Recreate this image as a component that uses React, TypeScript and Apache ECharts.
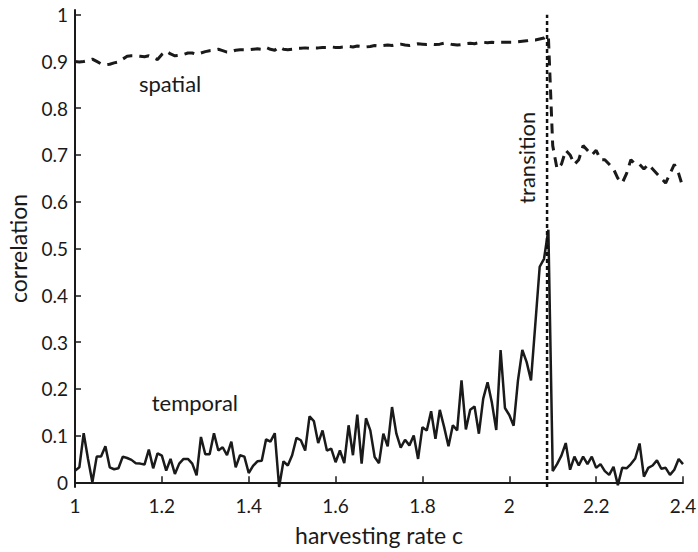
import React, { useEffect, useRef } from "react";
import * as echarts from "echarts";

// harvesting rates 1.00 .. 2.40 in steps of 0.01
const harvestRates: number[] = Array.from({ length: 141 }, (_, i) => (100 + i) / 100);

const temporal: number[] = [
  0.025, 0.032, 0.105, 0.05, 0.0, 0.055, 0.055, 0.077, 0.032, 0.028,
  0.03, 0.055, 0.052, 0.048, 0.041, 0.04, 0.038, 0.07, 0.03, 0.062,
  0.057, 0.025, 0.05, 0.018, 0.04, 0.05, 0.05, 0.04, 0.015, 0.097,
  0.06, 0.06, 0.105, 0.068, 0.075, 0.058, 0.087, 0.032, 0.058, 0.055,
  0.02, 0.035, 0.045, 0.046, 0.092, 0.087, 0.105, -0.01, 0.045, 0.036,
  0.058, 0.095, 0.09, 0.068, 0.141, 0.131, 0.084, 0.111, 0.068, 0.072,
  0.043, 0.068, 0.041, 0.122, 0.058, 0.145, 0.04, 0.137, 0.111, 0.054,
  0.041, 0.104, 0.077, 0.161, 0.104, 0.074, 0.091, 0.079, 0.1, 0.05,
  0.118, 0.111, 0.152, 0.093, 0.155, 0.118, 0.077, 0.122, 0.111, 0.218,
  0.113, 0.155, 0.162, 0.104, 0.179, 0.214, 0.17, 0.112, 0.283, 0.159,
  0.144, 0.121, 0.218, 0.283, 0.257, 0.218, 0.339, 0.461, 0.478, 0.54,
  0.024, 0.039, 0.057, 0.084, 0.027, 0.055, 0.036, 0.055, 0.039, 0.055,
  0.031, 0.039, 0.024, 0.016, 0.033, -0.006, 0.031, 0.03, 0.039, 0.051,
  0.083, 0.012, 0.031, 0.036, 0.047, 0.029, 0.031, 0.016, 0.027, 0.05,
  0.039,
];

const spatial: number[] = [
  0.9, 0.899, 0.9, 0.902, 0.905, 0.9, 0.895, 0.893, 0.894, 0.897,
  0.899, 0.905, 0.911, 0.912, 0.912, 0.911, 0.91, 0.912, 0.908, 0.904,
  0.915, 0.922, 0.916, 0.912, 0.913, 0.915, 0.918, 0.918, 0.915, 0.918,
  0.921, 0.923, 0.924, 0.926, 0.923, 0.92, 0.921, 0.924, 0.925, 0.925,
  0.925, 0.926, 0.927, 0.926, 0.93, 0.926, 0.924, 0.931, 0.926, 0.925,
  0.926, 0.928, 0.928, 0.929, 0.928, 0.929, 0.929, 0.93, 0.93, 0.931,
  0.93, 0.93, 0.931, 0.932, 0.931, 0.933, 0.932, 0.931, 0.932, 0.934,
  0.933, 0.934, 0.935, 0.934, 0.936, 0.937, 0.935, 0.934, 0.936, 0.938,
  0.937, 0.936, 0.937, 0.936, 0.937, 0.939, 0.938, 0.936, 0.935, 0.936,
  0.938, 0.939, 0.938, 0.94, 0.941, 0.94, 0.941, 0.94, 0.941, 0.941,
  0.941, 0.941, 0.942, 0.943, 0.944, 0.946, 0.946, 0.948, 0.95, 0.955,
  0.72, 0.67, 0.68, 0.71, 0.7, 0.68, 0.69, 0.72, 0.71, 0.7,
  0.71, 0.69, 0.69, 0.68, 0.67, 0.65, 0.64, 0.66, 0.69, 0.68,
  0.68, 0.67, 0.68, 0.67, 0.66, 0.65, 0.64, 0.66, 0.68, 0.66,
  0.63,
];

const transitionRate = 2.087;
const yTickValues = [0, 0.1, 0.2, 0.3, 0.4, 0.5, 0.6, 0.7, 0.8, 0.9, 1];

const annotations = [
  { name: "spatial", x: 1.219, y: 0.853, rotate: 0 },
  { name: "temporal", x: 1.276, y: 0.17, rotate: 0 },
  { name: "transition", x: 2.04, y: 0.694, rotate: 90 },
];

const FONT = "Lato, 'Open Sans', sans-serif";
const INK = "#1a1a1a";

export default function App() {
  const ref = useRef<HTMLDivElement>(null);
  useEffect(() => {
    if (!ref.current) return;
    const chart = echarts.init(ref.current, null, { renderer: "svg" });
    chart.setOption({
      animation: false,
      backgroundColor: "#ffffff",
      grid: { left: 75, right: 15, top: 10, bottom: 65, containLabel: false, outerBoundsMode: "none" },
      xAxis: {
        type: "value",
        min: 1,
        max: 2.4,
        interval: 0.2,
        name: "harvesting rate c",
        nameLocation: "middle",
        nameGap: 36,
        nameTextStyle: { fontFamily: FONT, fontSize: 23, color: INK },
        axisLine: { lineStyle: { color: INK, width: 2 } },
        axisTick: { inside: true, length: 6, lineStyle: { color: INK, width: 1.5 } },
        axisLabel: {
          fontFamily: FONT,
          fontSize: 19,
          color: INK,
          margin: 9,
          formatter: (v: number) => String(Math.round(v * 10) / 10),
        },
        splitLine: { show: false },
      },
      yAxis: {
        type: "value",
        min: -0.01,
        max: 1.01,
        name: "correlation",
        nameLocation: "middle",
        nameGap: 46,
        nameTextStyle: { fontFamily: FONT, fontSize: 23, color: INK },
        axisLine: { show: true, lineStyle: { color: INK, width: 2 } },
        axisTick: {
          show: true,
          inside: true,
          length: 6,
          customValues: yTickValues,
          lineStyle: { color: INK, width: 1.5 },
        },
        axisLabel: {
          fontFamily: FONT,
          fontSize: 19,
          color: INK,
          margin: 7,
          customValues: yTickValues,
          formatter: (v: number) => String(Math.round(v * 10) / 10),
        },
        splitLine: { show: false },
      },
      series: [
        {
          type: "line",
          name: "spatial",
          data: harvestRates.map((x, i) => [x, spatial[i]]),
          showSymbol: false,
          lineStyle: { color: INK, width: 3, type: [10, 7] },
        },
        {
          type: "line",
          name: "temporal",
          data: harvestRates.map((x, i) => [x, temporal[i]]),
          showSymbol: false,
          lineStyle: { color: INK, width: 2.5 },
        },
        {
          type: "line",
          name: "transition",
          data: [
            [transitionRate, -0.01],
            [transitionRate, 1.0],
          ],
          showSymbol: false,
          lineStyle: { color: "#111", width: 2.5, type: [4, 3] },
        },
        {
          type: "scatter",
          symbolSize: 0,
          silent: true,
          itemStyle: { color: INK, opacity: 1 },
          data: annotations.map((a) => ({
            name: a.name,
            value: [a.x, a.y],
            label: { rotate: a.rotate },
          })),
          label: {
            show: true,
            position: "inside",
            formatter: (p: any) => p.name,
            fontFamily: FONT,
            fontSize: 22,
            color: INK,
            opacity: 1,
            textBorderWidth: 0,
            textBorderColor: "transparent",
          },
        },
      ],
    });
    return () => chart.dispose();
  }, []);
  return <div ref={ref} style={{ width: 698, height: 552, position: "absolute", left: 0, top: 0 }} />;
}
